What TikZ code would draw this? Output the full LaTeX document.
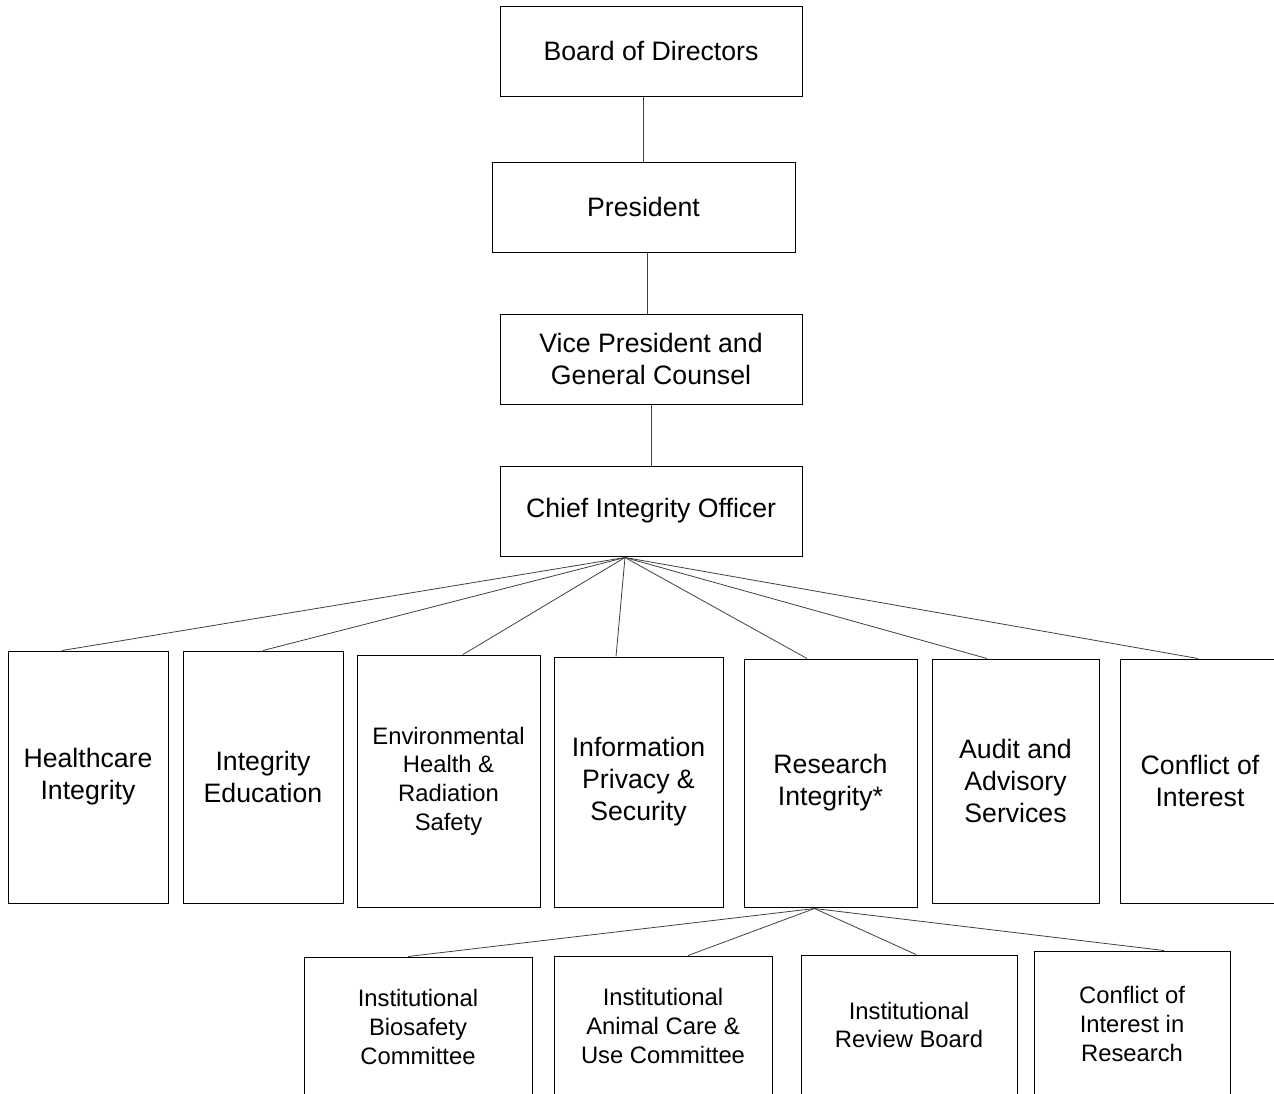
\documentclass[tikz,border=0pt]{standalone}
\usepackage{fontspec}
\setmainfont{Liberation Sans}
\usetikzlibrary{calc}

\begin{document}
\begin{tikzpicture}[x=0.75pt, y=-0.75pt,
    boxsize/.style 2 args={minimum width=#1*0.75pt, minimum height=#2*0.75pt},
    unit/.style={draw, line width=0.75pt, align=center, inner sep=1pt, font=\fontsize{20}{24}\selectfont},
    smallunit/.style={unit, font=\fontsize{17.85}{21.5}\selectfont},
    link/.style={draw=black!75, line width=0.6pt}]
    \path[use as bounding box, clip] (0,0) rectangle (1274,1093);

    % chain of command
    \node[unit, boxsize={302}{90}] (board) at (651,51) {Board of Directors};
    \node[unit, boxsize={303}{90}] (pres) at (643.5,207) {President};
    \node[unit, boxsize={302}{90}] (vp) at (651,359) {Vice President and\\General Counsel};
    \node[unit, boxsize={302}{90}] (cio) at (651,511) {Chief Integrity Officer};

    % offices under the chief integrity officer
    \node[unit, boxsize={160}{252}] (health) at (88,777) {Healthcare\\Integrity};
    \node[unit, boxsize={160}{252}] (edu) at (263,777) {Integrity\\Education};
    \node[smallunit, boxsize={183}{252}] (ehrs) at (448.5,781) {Environmental\\Health \&\\Radiation\\Safety};
    \node[unit, boxsize={169}{250}] (privacy) at (638.5,782) {Information\\Privacy \&\\Security};
    \node[unit, boxsize={173}{248}] (research) at (830.5,783) {Research\\Integrity*};
    \node[unit, boxsize={167}{244}] (audit) at (1015.5,781) {Audit and\\Advisory\\Services};
    \node[unit, boxsize={160}{244}] (coi) at (1200,781) {Conflict of\\Interest};

    % committees under research integrity
    \node[smallunit, boxsize={228}{140}] (ibc) at (418,1027) {Institutional\\Biosafety\\Committee};
    \node[smallunit, boxsize={218}{140}] (iacuc) at (663,1026) {Institutional\\Animal Care \&\\Use Committee};
    \node[smallunit, boxsize={216}{140}] (irb) at (909,1025) {Institutional\\Review Board};
    \node[smallunit, boxsize={196}{146}] (coir) at (1132,1024) {Conflict of\\Interest in\\Research};

    \draw[link] (board.south -| pres.north) -- (pres.north);
    \draw[link] ($(pres.south)+(3.5,0)$) -- ($(vp.north)+(-4,0)$);
    \draw[link] (vp) -- (cio);

    \coordinate (ciofoot) at ($(cio.south)+(-26,1)$);
    \draw[link] (ciofoot) -- ($(health.north)+(-26,0)$);
    \draw[link] (ciofoot) -- (edu.north);
    \draw[link] (ciofoot) -- ($(ehrs.north)+(14.5,0)$);
    \draw[link] (ciofoot) -- ($(privacy.north)+(-22.5,0)$);
    \draw[link] (ciofoot) -- ($(research.north)+(-23.5,0)$);
    \draw[link] (ciofoot) -- ($(audit.north)+(-28.5,0)$);
    \draw[link] (ciofoot) -- ($(coi.north)+(-2,0)$);

    \coordinate (rifoot) at ($(research.south)+(-16,1)$);
    \draw[link] (rifoot) -- ($(ibc.north)+(-10,0)$);
    \draw[link] (rifoot) -- ($(iacuc.north)+(25,0)$);
    \draw[link] (rifoot) -- ($(irb.north)+(7,0)$);
    \draw[link] (rifoot) -- ($(coir.north)+(32,0)$);
\end{tikzpicture}
\end{document}
